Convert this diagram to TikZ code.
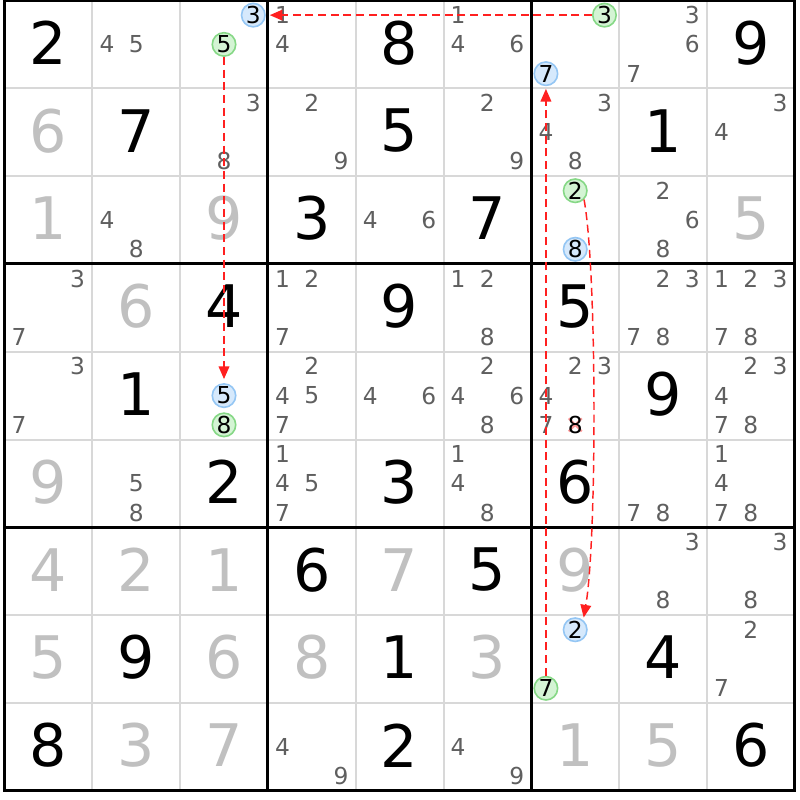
\documentclass[tikz,border=0pt]{standalone}
\usepackage{fontspec}
\setmainfont{DejaVu Sans}
\usetikzlibrary{arrows.meta}
\definecolor{solvedgrey}{HTML}{C0C0C0}
\definecolor{candgrey}{HTML}{5F5F5F}
\definecolor{thingrid}{HTML}{D8D8D8}
\definecolor{linkred}{HTML}{FF2020}
\definecolor{bluefill}{HTML}{D6E9FC}
\definecolor{blueline}{HTML}{94C6F4}
\definecolor{greenfill}{HTML}{D4F4D4}
\definecolor{greenline}{HTML}{86D886}
\definecolor{crosspink}{HTML}{FF9A9A}
\tikzset{
  given/.style={font=\fontsize{44}{44}\selectfont, text=black, inner sep=0pt, anchor=center},
  solved/.style={given, text=solvedgrey},
  cand/.style={font=\fontsize{17.5}{17.5}\selectfont, text=candgrey, inner sep=0pt, anchor=center},
  candB/.style={cand, text=black, circle, fill=bluefill, draw=blueline, line width=1.2pt, minimum size=17.6pt},
  candG/.style={cand, text=black, circle, fill=greenfill, draw=greenline, line width=1.2pt, minimum size=17.6pt},
  candX/.style={cand, text=black},
  thinline/.style={draw=thingrid, line width=1.5pt},
  thickline/.style={draw=black, line width=2.3pt},
  link/.style={draw=linkred, line width=1.1pt, dash pattern=on 6pt off 3.5pt, -{Triangle[length=9.5pt,width=8pt]}}
}
\newcommand\givn[3]{\node[given] (g#1#2) at ({4.5+(#2-0.5)*87.8},{0.5+(#1-0.5)*87.8-1.5}) {#3};}
\newcommand\solv[3]{\node[solved] (g#1#2) at ({4.5+(#2-0.5)*87.8},{0.5+(#1-0.5)*87.8-1.5}) {#3};}
\newcommand\candone[4]{%
  \pgfmathtruncatemacro\kk{mod(#3-1,3)}%
  \pgfmathtruncatemacro\mm{div(#3-1,3)}%
  \node[#4] (c#1#2#3) at ({4.5+(#2-1)*87.8+14.63+\kk*29.27},{0.5+(#1-1)*87.8+14.63+\mm*29.27}) {#3};}
\newcommand\cands[3]{\foreach \dd in {#3}{\candone{#1}{#2}{\dd}{cand}}}
\begin{document}
\begin{tikzpicture}[x=0.75pt,y=-0.75pt]
\useasboundingbox (0,0) rectangle (800,800);
\fill[white] (0,0) rectangle (800,800);
% grid
\foreach \i in {1,2,4,5,7,8}{
  \draw[thinline] ({4.5+\i*87.8},0.5) -- ({4.5+\i*87.8},790.7);
  \draw[thinline] (4.5,{0.5+\i*87.8}) -- (794.7,{0.5+\i*87.8});
}
\foreach \i in {3,6}{
  \draw[thickline] ({4.5+\i*87.8},0.5) -- ({4.5+\i*87.8},790.7);
  \draw[thickline] (4.5,{0.5+\i*87.8}) -- (794.7,{0.5+\i*87.8});
}
\draw[thickline] (4.5,0.5) rectangle (794.7,790.7);
% row 1
\givn{1}{1}{2} \cands{1}{2}{4,5}
\candone{1}{3}{3}{candB} \candone{1}{3}{5}{candG}
\cands{1}{4}{1,4} \givn{1}{5}{8} \cands{1}{6}{1,4,6}
\candone{1}{7}{3}{candG} \candone{1}{7}{7}{candB}
\cands{1}{8}{3,6,7} \givn{1}{9}{9}
% row 2
\solv{2}{1}{6} \givn{2}{2}{7} \cands{2}{3}{3,8} \cands{2}{4}{2,9} \givn{2}{5}{5}
\cands{2}{6}{2,9} \cands{2}{7}{3,4,8} \givn{2}{8}{1} \cands{2}{9}{3,4}
% row 3
\solv{3}{1}{1} \cands{3}{2}{4,8} \solv{3}{3}{9} \givn{3}{4}{3} \cands{3}{5}{4,6} \givn{3}{6}{7}
\candone{3}{7}{2}{candG} \candone{3}{7}{8}{candB}
\cands{3}{8}{2,6,8} \solv{3}{9}{5}
% row 4
\cands{4}{1}{3,7} \solv{4}{2}{6} \givn{4}{3}{4} \cands{4}{4}{1,2,7} \givn{4}{5}{9}
\cands{4}{6}{1,2,8} \givn{4}{7}{5} \cands{4}{8}{2,3,7,8} \cands{4}{9}{1,2,3,7,8}
% row 5
\cands{5}{1}{3,7} \givn{5}{2}{1}
\candone{5}{3}{5}{candB} \candone{5}{3}{8}{candG}
\cands{5}{4}{2,4,5,7} \cands{5}{5}{4,6} \cands{5}{6}{2,4,6,8} \cands{5}{7}{2,3,4,7}
\draw[crosspink, line width=1.6pt] ({531.3+43.9-6.5},{351.7+73.2-6.5}) -- ++(13,13) ({531.3+43.9+6.5},{351.7+73.2-6.5}) -- ++(-13,13);
\candone{5}{7}{8}{candX}
\givn{5}{8}{9} \cands{5}{9}{2,3,4,7,8}
% row 6
\solv{6}{1}{9} \cands{6}{2}{5,8} \givn{6}{3}{2} \cands{6}{4}{1,4,5,7} \givn{6}{5}{3}
\cands{6}{6}{1,4,8} \givn{6}{7}{6} \cands{6}{8}{7,8} \cands{6}{9}{1,4,7,8}
% row 7
\solv{7}{1}{4} \solv{7}{2}{2} \solv{7}{3}{1} \givn{7}{4}{6} \solv{7}{5}{7} \givn{7}{6}{5}
\solv{7}{7}{9} \cands{7}{8}{3,8} \cands{7}{9}{3,8}
% row 8
\solv{8}{1}{5} \givn{8}{2}{9} \solv{8}{3}{6} \solv{8}{4}{8} \givn{8}{5}{1} \solv{8}{6}{3}
\candone{8}{7}{2}{candB} \candone{8}{7}{7}{candG}
\givn{8}{8}{4} \cands{8}{9}{2,7}
% row 9
\givn{9}{1}{8} \solv{9}{2}{3} \solv{9}{3}{7} \cands{9}{4}{4,9} \givn{9}{5}{2}
\cands{9}{6}{4,9} \solv{9}{7}{1} \solv{9}{8}{5} \givn{9}{9}{6}
% links
\draw[link, shorten >=3pt] (c173) -- (c133);
\draw[link, shorten >=3pt] (c135) -- (c535);
\draw[link, shorten >=2pt] (c877) -- (c177);
\draw[link, shorten >=2pt] (c372.-45) .. controls (597,270) and (597,540) .. (c872.50);
\end{tikzpicture}
\end{document}
